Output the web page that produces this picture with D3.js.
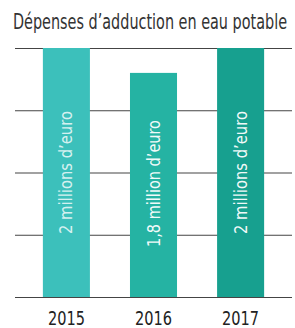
<!DOCTYPE html>
<html>
<head>
<meta charset="utf-8">
<script src="https://cdn.jsdelivr.net/npm/d3@7"></script>
<style>
  body { margin: 0; background: #fff; }
  text { font-family: "DejaVu Sans", sans-serif; font-stretch: condensed; }
</style>
</head>
<body>
<div id="chart"></div>
<script>
// data
var years = ["2015", "2016", "2017"];
var values = [2, 1.8, 2];
var barLabels = ["2 millions d\u2019euro", "1,8 million d\u2019euro", "2 millions d\u2019euro"];
var gridTicks = [0, 0.5, 1, 1.5, 2];
var title = "D\u00e9penses d\u2019adduction en eau potable";

var colors = ["#3cc0bb", "#25b3a3", "#17a08f"];

// dimensions
var margin = {top: 48, right: 3, bottom: 31, left: 15},
    width = 295 - margin.left - margin.right,
    height = 328 - margin.top - margin.bottom;

var svg = d3.select("#chart")
  .append("svg")
  .attr("width", 295)
  .attr("height", 328)
  .append("g")
  .attr("transform", "translate(" + margin.left + "," + margin.top + ")");

// scales
var x = d3.scaleBand().domain(years).range([0, width]).paddingInner(0.46).paddingOuter(0.32);
var y = d3.scaleLinear().domain([0, 2]).range([height, 0]);
var color = d3.scaleOrdinal().domain(years).range(colors);

// title
svg.append("text")
  .attr("x", -2)
  .attr("y", -19)
  .attr("font-size", 21)
  .attr("fill", "#333")
  .attr("textLength", 274)
  .attr("lengthAdjust", "spacingAndGlyphs")
  .text(title);

// grid lines
svg.append("g")
  .call(d3.axisLeft(y).tickValues(gridTicks).tickSize(-width).tickFormat(""))
  .call(function(g) { g.select(".domain").remove(); })
  .selectAll(".tick line")
  .attr("stroke", "#444")
  .attr("stroke-width", 1.2);

// bars
svg.selectAll(".bar")
  .data(years)
  .enter().append("rect")
  .attr("class", "bar")
  .attr("x", function(d) { return x(d); })
  .attr("width", x.bandwidth())
  .attr("y", function(d, i) { return y(values[i]); })
  .attr("height", function(d, i) { return height - y(values[i]); })
  .attr("fill", function(d) { return color(d); });

// labels inside bars
svg.selectAll(".blabel")
  .data(years)
  .enter().append("text")
  .attr("class", "blabel")
  .attr("transform", function(d, i) {
    return "translate(" + (x(d) + x.bandwidth() / 2 + 6) + "," + (y(1) + (i === 1 ? 11 : 0)) + ") rotate(-90)";
  })
  .attr("text-anchor", "middle")
  .attr("font-size", 17)
  .attr("fill", "#fff")
  .attr("fill-opacity", function(d, i) { return i === 0 ? 0.8 : 0.95; })
  .attr("textLength", function(d, i) { return i === 1 ? 127 : 123; })
  .attr("lengthAdjust", "spacingAndGlyphs")
  .text(function(d, i) { return barLabels[i]; });

// year labels
svg.append("g")
  .attr("transform", "translate(0," + height + ")")
  .call(d3.axisBottom(x).tickSize(0).tickPadding(14))
  .call(function(g) { g.select(".domain").remove(); })
  .selectAll("text")
  .attr("font-size", 20)
  .attr("fill", "#222")
  .attr("textLength", 37)
  .attr("lengthAdjust", "spacingAndGlyphs")
  .attr("font-family", "DejaVu Sans, sans-serif");
</script>
</body>
</html>
